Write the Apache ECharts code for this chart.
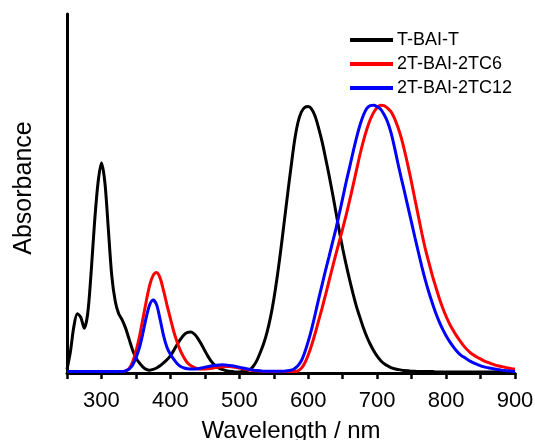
<!DOCTYPE html>
<html>
<head>
<meta charset="utf-8">
<script src="https://cdn.jsdelivr.net/npm/echarts@6/dist/echarts.min.js"></script>
<style>
 html, body { margin: 0; padding: 0; background: #fff; }
 #spettri { width: 535px; height: 440px; }
</style>
</head>
<body>
<div id="spettri"></div>
<script>
 // wavelength grid (nm), 5 nm steps
 var wavelength = [250, 255, 260, 265, 270, 275, 280, 285, 290, 295,
     300, 305, 310, 315, 320, 325, 330, 335, 340, 345,
     350, 355, 360, 365, 370, 375, 380, 385, 390, 395,
     400, 405, 410, 415, 420, 425, 430, 435, 440, 445,
     450, 455, 460, 465, 470, 475, 480, 485, 490, 495,
     500, 505, 510, 515, 520, 525, 530, 535, 540, 545,
     550, 555, 560, 565, 570, 575, 580, 585, 590, 595,
     600, 605, 610, 615, 620, 625, 630, 635, 640, 645,
     650, 655, 660, 665, 670, 675, 680, 685, 690, 695,
     700, 705, 710, 715, 720, 725, 730, 735, 740, 745,
     750, 755, 760, 765, 770, 775, 780, 785, 790, 795,
     800, 805, 810, 815, 820, 825, 830, 835, 840, 845,
     850, 855, 860, 865, 870, 875, 880, 885, 890, 895,
     900];

 var tBaiT = [0.010, 0.060, 0.130, 0.165, 0.155, 0.125, 0.165, 0.280, 0.420, 0.530,
     0.585, 0.530, 0.400, 0.270, 0.200, 0.165, 0.148, 0.125, 0.095, 0.065,
     0.042, 0.028, 0.017, 0.010, 0.008, 0.010, 0.014, 0.020, 0.028, 0.037,
     0.048, 0.063, 0.080, 0.095, 0.107, 0.113, 0.114, 0.108, 0.096, 0.080,
     0.062, 0.045, 0.031, 0.021, 0.014, 0.010, 0.007, 0.005, 0.004, 0.003,
     0.003, 0.004, 0.006, 0.009, 0.018, 0.033, 0.055, 0.080, 0.112, 0.153,
     0.205, 0.268, 0.340, 0.418, 0.497, 0.573, 0.645, 0.697, 0.727, 0.740,
     0.742, 0.735, 0.715, 0.683, 0.645, 0.600, 0.553, 0.503, 0.450, 0.397,
     0.347, 0.302, 0.260, 0.221, 0.185, 0.155, 0.126, 0.101, 0.080, 0.062,
     0.047, 0.035, 0.026, 0.020, 0.015, 0.012, 0.010, 0.008, 0.007, 0.006,
     0.005, 0.005, 0.004, 0.004, 0.004, 0.004, 0.004, 0.003, 0.003, 0.003,
     0.003, 0.003, 0.003, 0.003, 0.003, 0.003, 0.003, 0.003, 0.003, 0.003,
     0.003, 0.003, 0.003, 0.003, 0.003, 0.003, 0.003, 0.003, 0.003, 0.003,
     0.003];

 var tc6 = [0.004, 0.004, 0.004, 0.004, 0.004, 0.004, 0.004, 0.004, 0.004, 0.004,
     0.004, 0.004, 0.004, 0.004, 0.004, 0.004, 0.004, 0.006, 0.012, 0.030,
     0.060, 0.100, 0.150, 0.200, 0.245, 0.272, 0.280, 0.265, 0.230, 0.190,
     0.152, 0.115, 0.085, 0.060, 0.042, 0.028, 0.020, 0.015, 0.012, 0.011,
     0.011, 0.012, 0.013, 0.015, 0.016, 0.017, 0.018, 0.018, 0.017, 0.016,
     0.014, 0.012, 0.010, 0.008, 0.007, 0.006, 0.005, 0.004, 0.004, 0.004,
     0.004, 0.004, 0.004, 0.004, 0.004, 0.004, 0.004, 0.006, 0.013, 0.028,
     0.050, 0.078, 0.110, 0.145, 0.180, 0.217, 0.255, 0.293, 0.330, 0.366,
     0.402, 0.440, 0.480, 0.522, 0.565, 0.608, 0.646, 0.679, 0.706, 0.726,
     0.740, 0.746, 0.745, 0.738, 0.728, 0.710, 0.685, 0.655, 0.617, 0.575,
     0.530, 0.482, 0.435, 0.388, 0.345, 0.308, 0.272, 0.240, 0.209, 0.182,
     0.158, 0.137, 0.120, 0.104, 0.090, 0.077, 0.066, 0.057, 0.050, 0.044,
     0.039, 0.034, 0.030, 0.026, 0.023, 0.020, 0.018, 0.016, 0.014, 0.012,
     0.011];

 var tc12 = [0.004, 0.004, 0.004, 0.004, 0.004, 0.004, 0.004, 0.004, 0.004, 0.004,
     0.004, 0.004, 0.004, 0.004, 0.004, 0.004, 0.004, 0.006, 0.011, 0.022,
     0.042, 0.070, 0.110, 0.155, 0.190, 0.203, 0.190, 0.150, 0.105, 0.072,
     0.052, 0.038, 0.026, 0.018, 0.014, 0.012, 0.011, 0.011, 0.012, 0.014,
     0.016, 0.018, 0.020, 0.021, 0.022, 0.023, 0.022, 0.021, 0.020, 0.018,
     0.016, 0.014, 0.012, 0.010, 0.008, 0.007, 0.006, 0.005, 0.005, 0.005,
     0.005, 0.005, 0.005, 0.005, 0.006, 0.008, 0.012, 0.020, 0.034, 0.058,
     0.088, 0.123, 0.163, 0.205, 0.245, 0.285, 0.323, 0.362, 0.400, 0.443,
     0.487, 0.532, 0.573, 0.615, 0.655, 0.690, 0.718, 0.737, 0.745, 0.746,
     0.742, 0.735, 0.720, 0.700, 0.670, 0.630, 0.585, 0.543, 0.502, 0.460,
     0.418, 0.376, 0.335, 0.295, 0.258, 0.225, 0.195, 0.167, 0.143, 0.122,
     0.104, 0.088, 0.074, 0.062, 0.052, 0.045, 0.039, 0.033, 0.028, 0.024,
     0.020, 0.017, 0.015, 0.013, 0.011, 0.010, 0.008, 0.007, 0.006, 0.005,
     0.004];

 var seriesNames = ['T-BAI-T', '2T-BAI-2TC6', '2T-BAI-2TC12'];
 var seriesColors = ['#000000', '#ff0000', '#0000ff'];

 function pairs(vals) {
     return wavelength.map(function (w, i) { return [w, vals[i]]; });
 }

 var spettriChart = echarts.init(document.getElementById('spettri'));
 var font = 'Liberation Sans, Arial, sans-serif';

 option = {
     animation: false,
     grid: {
         left: 67,
         right: 20,
         top: 14,
         bottom: 67,
         outerBoundsMode: 'none'
     },
     legend: {
         orient: 'vertical',
         left: 345,
         top: 26,
         icon: 'rect',
         itemWidth: 43,
         itemHeight: 4,
         itemGap: 6,
         textStyle: {
             fontFamily: font,
             fontSize: 18,
             color: '#000',
             padding: [0, 0, 0, -1]
         },
         data: seriesNames
     },
     xAxis: {
         type: 'value',
         min: 250,
         max: 900,
         interval: 50,
         name: 'Wavelength / nm',
         nameLocation: 'middle',
         nameGap: 46,
         nameTextStyle: { fontFamily: font, fontSize: 24, color: '#000' },
         axisLine: { lineStyle: { color: '#000', width: 3 } },
         axisTick: { length: 6, lineStyle: { color: '#000', width: 2.5 } },
         axisLabel: {
             margin: 17,
             fontFamily: font,
             fontSize: 22,
             color: '#000',
             formatter: function (v) { return v % 100 === 0 ? String(v) : ''; }
         },
         splitLine: { show: false }
     },
     yAxis: {
         type: 'value',
         min: 0,
         max: 1,
         name: 'Absorbance',
         nameLocation: 'middle',
         nameGap: 30,
         nameRotate: 90,
         nameTextStyle: { fontFamily: font, fontSize: 25, color: '#000', padding: [0, 0, 0, 11] },
         axisLine: { show: true, lineStyle: { color: '#000', width: 3 } },
         axisTick: { show: false },
         axisLabel: { show: false },
         splitLine: { show: false }
     },
     series: [tBaiT, tc6, tc12].map(function (vals, i) {
         return {
             name: seriesNames[i],
             type: 'line',
             data: pairs(vals),
             smooth: 0.3,
             showSymbol: false,
             symbol: 'none',
             color: seriesColors[i],
             lineStyle: { width: 3, color: seriesColors[i] }
         };
     })
 };
 spettriChart.setOption(option);
 window.addEventListener('resize', spettriChart.resize);
</script>
</body>
</html>
